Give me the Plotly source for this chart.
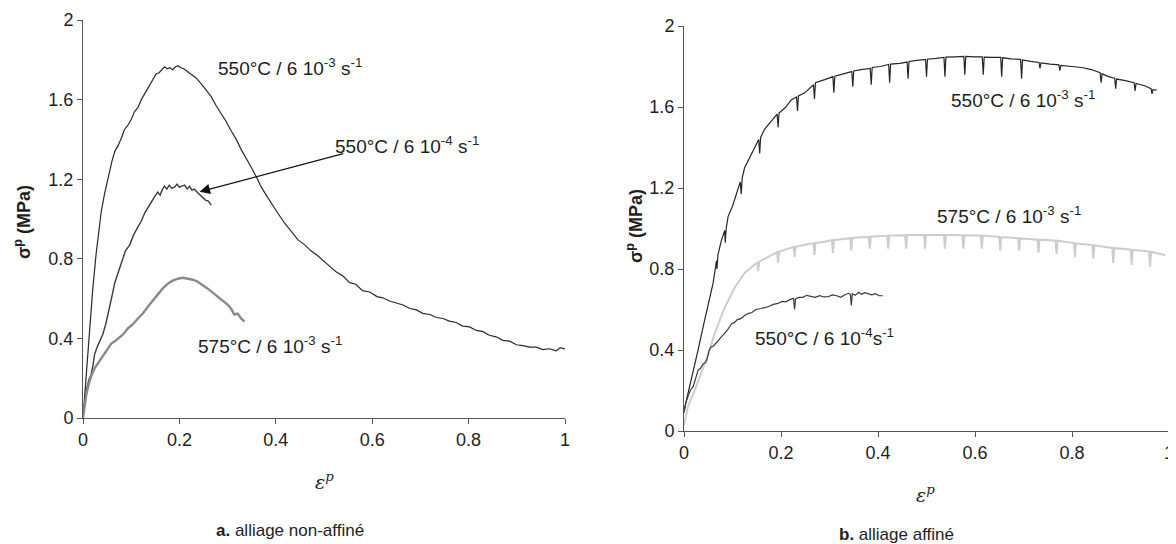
import plotly.graph_objects as go

# page body keeps an 8 px margin, so the figure is drawn 8 px in from the window corner
OFF = 8
W, H = 1176 - OFF, 544 - OFF

# ---------------- data : (a) alliage non-affiné ----------------
a1_x = [0, 0.005, 0.01, 0.015, 0.02, 0.027, 0.033, 0.038, 0.045, 0.052, 0.06, 0.066, 0.073, 0.08, 0.086,
        0.093, 0.1, 0.107, 0.114, 0.121, 0.128, 0.135, 0.142, 0.148, 0.152, 0.158, 0.163, 0.169, 0.175, 0.18,
        0.186, 0.192, 0.197, 0.203, 0.209, 0.215, 0.224, 0.234, 0.245, 0.255, 0.266, 0.276, 0.287, 0.297,
        0.307, 0.318, 0.328, 0.339, 0.349, 0.36, 0.37, 0.38, 0.39, 0.404, 0.418, 0.432, 0.446, 0.46, 0.473,
        0.487, 0.5, 0.512, 0.525, 0.54, 0.553, 0.566, 0.58, 0.595, 0.61, 0.622, 0.636, 0.65, 0.664, 0.678,
        0.692, 0.705, 0.72, 0.733, 0.747, 0.76, 0.774, 0.788, 0.802, 0.816, 0.83, 0.843, 0.857, 0.871, 0.885,
        0.899, 0.913, 0.926, 0.94, 0.954, 0.968, 0.982, 0.99, 1.0]
a1_y = [0, 0.17, 0.33, 0.5, 0.64, 0.82, 0.95, 1.04, 1.13, 1.21, 1.29, 1.34, 1.37, 1.41, 1.45,
        1.47, 1.5, 1.54, 1.56, 1.6, 1.63, 1.66, 1.69, 1.71, 1.73, 1.735, 1.75, 1.765, 1.755, 1.76,
        1.75, 1.765, 1.77, 1.76, 1.755, 1.745, 1.73, 1.71, 1.68, 1.65, 1.615, 1.57, 1.53, 1.49,
        1.445, 1.4, 1.35, 1.305, 1.26, 1.21, 1.16, 1.12, 1.08, 1.03, 0.98, 0.94, 0.895, 0.87, 0.84,
        0.815, 0.785, 0.762, 0.735, 0.712, 0.68, 0.672, 0.64, 0.633, 0.61, 0.604, 0.588, 0.578, 0.568, 0.55,
        0.543, 0.526, 0.52, 0.505, 0.5, 0.487, 0.48, 0.462, 0.458, 0.44, 0.434, 0.416, 0.408, 0.39, 0.386,
        0.368, 0.364, 0.356, 0.356, 0.344, 0.348, 0.338, 0.354, 0.347]

a2_x = [0, 0.004, 0.007, 0.012, 0.017, 0.021, 0.024, 0.03, 0.036, 0.041, 0.047, 0.052, 0.059, 0.066, 0.073,
        0.08, 0.088, 0.097, 0.105, 0.114, 0.121, 0.128, 0.135, 0.142, 0.148, 0.155, 0.16, 0.165, 0.169, 0.174,
        0.179, 0.184, 0.19, 0.195, 0.2, 0.205, 0.211, 0.216, 0.221, 0.226, 0.231, 0.237, 0.243, 0.249, 0.254,
        0.26, 0.266]
a2_y = [0, 0.08, 0.14, 0.19, 0.22, 0.27, 0.32, 0.36, 0.39, 0.42, 0.47, 0.52, 0.6, 0.68, 0.73,
        0.79, 0.84, 0.87, 0.92, 0.96, 0.99, 1.03, 1.06, 1.09, 1.11, 1.135, 1.12, 1.15, 1.165, 1.15,
        1.17, 1.155, 1.16, 1.175, 1.16, 1.165, 1.17, 1.15, 1.165, 1.145, 1.15, 1.135, 1.12, 1.11, 1.095,
        1.09, 1.07]

a3_x = [0, 0.004, 0.007, 0.012, 0.017, 0.024, 0.031, 0.038, 0.045, 0.052, 0.059, 0.066, 0.073, 0.083, 0.093,
        0.103, 0.114, 0.124, 0.135, 0.145, 0.155, 0.165, 0.176, 0.186, 0.197, 0.207, 0.218, 0.228, 0.238, 0.248,
        0.259, 0.269, 0.28, 0.29, 0.3, 0.307, 0.314, 0.321, 0.328, 0.335]
a3_y = [0, 0.07, 0.12, 0.17, 0.21, 0.25, 0.275, 0.3, 0.325, 0.35, 0.375, 0.385, 0.4, 0.42, 0.45,
        0.47, 0.5, 0.525, 0.56, 0.59, 0.625, 0.65, 0.675, 0.69, 0.70, 0.705, 0.70, 0.695, 0.685, 0.67,
        0.65, 0.63, 0.61, 0.59, 0.57, 0.55, 0.52, 0.525, 0.5, 0.485]

# ---------------- data : (b) alliage affiné ----------------
b1_x = [0, 0.005, 0.01, 0.02, 0.03, 0.04, 0.05, 0.06, 0.067, 0.068, 0.07, 0.077, 0.084, 0.085, 0.087, 0.091,
        0.1, 0.108, 0.116, 0.118, 0.12, 0.125, 0.135, 0.146, 0.154, 0.156, 0.158, 0.166, 0.18, 0.192, 0.194,
        0.196, 0.21, 0.221, 0.232, 0.234, 0.236, 0.249, 0.267, 0.269, 0.271, 0.276, 0.29, 0.307, 0.309, 0.311,
        0.325, 0.346, 0.348, 0.35, 0.365, 0.384, 0.386, 0.388, 0.405, 0.422, 0.424, 0.426, 0.445, 0.46, 0.462,
        0.464, 0.48, 0.498, 0.5, 0.502, 0.52, 0.536, 0.538, 0.54, 0.56, 0.577, 0.579, 0.581, 0.6, 0.615, 0.617,
        0.619, 0.635, 0.653, 0.655, 0.657, 0.675, 0.694, 0.696, 0.698, 0.715, 0.732, 0.734, 0.736, 0.755, 0.773,
        0.775, 0.777, 0.8, 0.82, 0.84, 0.858, 0.86, 0.862, 0.875, 0.888, 0.89, 0.892, 0.91, 0.928, 0.93, 0.932,
        0.95, 0.963, 0.965, 0.967, 0.975]
b1_y = [0.1, 0.15, 0.2, 0.3, 0.41, 0.52, 0.62, 0.73, 0.84, 0.8, 0.87, 0.94, 0.99, 0.93, 1.0, 1.06,
        1.11, 1.17, 1.23, 1.17, 1.25, 1.3, 1.35, 1.4, 1.44, 1.37, 1.45, 1.49, 1.53, 1.565, 1.5,
        1.57, 1.6, 1.635, 1.65, 1.58, 1.655, 1.67, 1.71, 1.64, 1.72, 1.725, 1.735, 1.75, 1.67, 1.752,
        1.762, 1.775, 1.7, 1.778, 1.785, 1.79, 1.71, 1.795, 1.8, 1.81, 1.72, 1.812, 1.815, 1.822, 1.74,
        1.825, 1.83, 1.835, 1.75, 1.836, 1.84, 1.845, 1.75, 1.846, 1.848, 1.85, 1.76, 1.85, 1.848, 1.848, 1.76,
        1.846, 1.845, 1.845, 1.75, 1.843, 1.838, 1.835, 1.74, 1.832, 1.825, 1.82, 1.79, 1.818, 1.812, 1.808,
        1.78, 1.805, 1.8, 1.795, 1.785, 1.77, 1.72, 1.765, 1.75, 1.742, 1.69, 1.738, 1.73, 1.72, 1.68, 1.716,
        1.705, 1.69, 1.665, 1.686, 1.684]

b2_x = [0, 0.008, 0.022, 0.036, 0.05, 0.063, 0.084, 0.105, 0.125, 0.151, 0.153, 0.155, 0.18, 0.192, 0.194,
        0.196, 0.214, 0.226, 0.228, 0.23, 0.25, 0.267, 0.269, 0.271, 0.29, 0.305, 0.307, 0.309, 0.325, 0.343,
        0.345, 0.347, 0.365, 0.381, 0.383, 0.385, 0.4, 0.419, 0.421, 0.423, 0.44, 0.456, 0.458, 0.46, 0.478,
        0.495, 0.497, 0.499, 0.52, 0.536, 0.538, 0.54, 0.555, 0.574, 0.576, 0.578, 0.595, 0.612, 0.614, 0.616,
        0.635, 0.65, 0.652, 0.654, 0.672, 0.689, 0.691, 0.693, 0.71, 0.729, 0.731, 0.733, 0.75, 0.766, 0.768,
        0.77, 0.788, 0.804, 0.806, 0.808, 0.825, 0.842, 0.844, 0.846, 0.865, 0.883, 0.885, 0.887, 0.905, 0.921,
        0.923, 0.925, 0.945, 0.959, 0.961, 0.963, 0.975, 0.992]
b2_y = [0.03, 0.12, 0.2, 0.285, 0.38, 0.48, 0.61, 0.71, 0.78, 0.832, 0.79, 0.836, 0.87, 0.883, 0.83,
        0.885, 0.9, 0.908, 0.86, 0.91, 0.92, 0.927, 0.87, 0.928, 0.935, 0.942, 0.88, 0.943, 0.947, 0.952,
        0.89, 0.953, 0.957, 0.958, 0.9, 0.959, 0.962, 0.964, 0.9, 0.965, 0.966, 0.967, 0.9, 0.968, 0.968,
        0.968, 0.9, 0.968, 0.968, 0.968, 0.9, 0.968, 0.968, 0.967, 0.9, 0.967, 0.966, 0.965, 0.9, 0.965,
        0.962, 0.958, 0.89, 0.957, 0.955, 0.952, 0.89, 0.951, 0.948, 0.945, 0.88, 0.944, 0.943, 0.94, 0.875,
        0.94, 0.933, 0.928, 0.86, 0.927, 0.922, 0.918, 0.85, 0.917, 0.91, 0.904, 0.83, 0.903, 0.9, 0.895,
        0.82, 0.894, 0.89, 0.886, 0.81, 0.885, 0.878, 0.869]

b3_x = [0, 0.004, 0.008, 0.013, 0.019, 0.024, 0.029, 0.034, 0.039, 0.045, 0.047, 0.052, 0.056, 0.061, 0.065,
        0.071, 0.077, 0.083, 0.09, 0.098, 0.104, 0.11, 0.117, 0.125, 0.132, 0.14, 0.148, 0.159, 0.167, 0.175,
        0.184, 0.194, 0.202, 0.21, 0.219, 0.226, 0.228, 0.23, 0.237, 0.245, 0.253, 0.262, 0.27, 0.28, 0.288,
        0.297, 0.306, 0.315, 0.323, 0.331, 0.339, 0.343, 0.345, 0.347, 0.353, 0.36, 0.366, 0.373, 0.38, 0.387,
        0.395, 0.402, 0.41]
b3_y = [0.09, 0.14, 0.17, 0.2, 0.22, 0.26, 0.3, 0.31, 0.33, 0.34, 0.35, 0.4, 0.415, 0.42, 0.43,
        0.445, 0.465, 0.48, 0.5, 0.53, 0.535, 0.55, 0.555, 0.57, 0.58, 0.585, 0.6, 0.605, 0.61, 0.615,
        0.625, 0.63, 0.64, 0.638, 0.65, 0.655, 0.6, 0.652, 0.66, 0.66, 0.67, 0.663, 0.66, 0.668, 0.662,
        0.663, 0.672, 0.668, 0.66, 0.672, 0.68, 0.675, 0.62, 0.678, 0.67, 0.685, 0.675, 0.683, 0.676, 0.672,
        0.678, 0.668, 0.668]

x_ticks = [0, 0.2, 0.4, 0.6, 0.8, 1]
x_ticklabels = ["0", "0.2", "0.4", "0.6", "0.8", "1"]
y_ticks = [0, 0.4, 0.8, 1.2, 1.6, 2]
y_ticklabels = ["0", "0.4", "0.8", "1.2", "1.6", "2"]

# ---------------- figure ----------------
FONT = "Liberation Sans, Arial, Helvetica, sans-serif"
TXT = "#1e1e1e"


def px_x(p):
    # window pixel -> paper fraction
    return (p - OFF) / W


def px_y(p):
    return 1 - (p - OFF) / H


fig = go.Figure()

series = [
    (a1_x, a1_y, "x", "y", "#2a2a2a", 1.2),
    (a2_x, a2_y, "x", "y", "#3a3a3a", 1.4),
    (a3_x, a3_y, "x", "y", "#8a8a8a", 2.4),
    (b1_x, b1_y, "x2", "y2", "#262626", 1.2),
    (b2_x, b2_y, "x2", "y2", "#cdcdcd", 2.0),
    (b3_x, b3_y, "x2", "y2", "#3a3a3a", 1.2),
]
for xs, ys, xa, ya, col, w in series:
    fig.add_trace(go.Scatter(x=xs, y=ys, xaxis=xa, yaxis=ya, mode="lines",
                             line=dict(color=col, width=w), showlegend=False, hoverinfo="skip"))

axis_common = dict(showgrid=False, zeroline=False, showline=True, linecolor="#555555", linewidth=1,
                   ticks="outside", ticklen=5, tickcolor="#555555", tickwidth=1, automargin=False,
                   ticklabeloverflow="allow",
                   tickfont=dict(family=FONT, size=18, color=TXT))

fig.update_layout(
    width=W, height=H, margin=dict(l=0, r=0, t=0, b=0, autoexpand=False),
    paper_bgcolor="white", plot_bgcolor="white",
    xaxis=dict(domain=[px_x(83), px_x(565)], range=[0, 1], tickvals=x_ticks, ticktext=x_ticklabels,
               anchor="y", **axis_common),
    yaxis=dict(domain=[px_y(418), px_y(20)], range=[0, 2], tickvals=y_ticks, ticktext=y_ticklabels,
               anchor="x", **axis_common),
    xaxis2=dict(domain=[px_x(684), px_x(1169)], range=[0, 1], tickvals=x_ticks, ticktext=x_ticklabels,
                anchor="y2", **axis_common),
    yaxis2=dict(domain=[px_y(431), px_y(26)], range=[0, 2], tickvals=y_ticks, ticktext=y_ticklabels,
                anchor="x2", **axis_common),
)

lab_font = dict(family=FONT, size=19, color=TXT)
labels = [
    ("x", "y", 0.276, 1.764, "550°C / 6 10<sup>-3</sup> s<sup>-1</sup>"),
    ("x", "y", 0.518, 1.372, "550°C / 6 10<sup>-4</sup> s<sup>-1</sup>"),
    ("x", "y", 0.234, 0.367, "575°C / 6 10<sup>-3</sup> s<sup>-1</sup>"),
    ("x2", "y2", 0.546, 1.64, "550°C / 6 10<sup>-3</sup> s<sup>-1</sup>"),
    ("x2", "y2", 0.518, 1.067, "575°C / 6 10<sup>-3</sup> s<sup>-1</sup>"),
    ("x2", "y2", 0.142, 0.464, "550°C / 6 10<sup>-4</sup>s<sup>-1</sup>"),
]
for xr, yr, xv, yv, t in labels:
    fig.add_annotation(xref=xr, yref=yr, x=xv, y=yv, text=t, showarrow=False,
                       xanchor="left", yanchor="middle", font=lab_font)

# arrow pointing to the 550°C / 6 10-4 curve
fig.add_annotation(xref="x", yref="y", axref="x", ayref="y", x=0.242, y=1.137, ax=0.543, ay=1.33,
                   text="", showarrow=True, arrowhead=2, arrowsize=1.6, arrowwidth=1.3, arrowcolor="#111111")

# axis titles
for xp, yp in [(22, 222), (634, 226)]:
    fig.add_annotation(xref="paper", yref="paper", x=px_x(xp), y=px_y(yp), text="<b>σ<sup>p</sup> (MPa)</b>",
                       showarrow=False, textangle=-90, xanchor="center", yanchor="middle",
                       font=dict(family=FONT, size=18, color=TXT))
for xp, yp in [(324, 481), (925, 494)]:
    fig.add_annotation(xref="paper", yref="paper", x=px_x(xp), y=px_y(yp), text="<i>ε<sup>p</sup></i>",
                       showarrow=False, xanchor="center", yanchor="middle",
                       font=dict(family="DejaVu Serif, serif", size=19, color=TXT))

# panel captions
fig.add_annotation(xref="paper", yref="paper", x=px_x(290), y=px_y(530), text="<b>a.</b> alliage non-affiné",
                   showarrow=False, xanchor="center", yanchor="middle", font=dict(family=FONT, size=17, color=TXT))
fig.add_annotation(xref="paper", yref="paper", x=px_x(896), y=px_y(534), text="<b>b.</b> alliage affiné",
                   showarrow=False, xanchor="center", yanchor="middle", font=dict(family=FONT, size=17, color=TXT))

fig.write_html("out.html")
